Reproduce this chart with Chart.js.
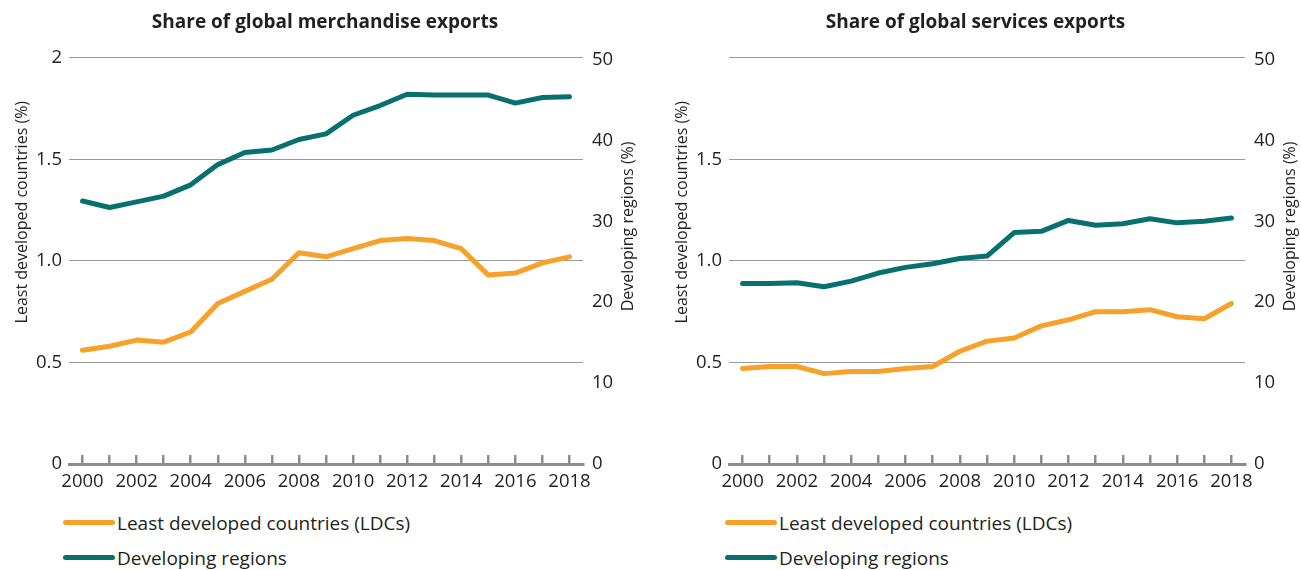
<!DOCTYPE html>
<html>
<head>
<meta charset="utf-8">
<script src="https://cdn.jsdelivr.net/npm/chart.js@4.4.1/dist/chart.umd.min.js"></script>
<style>
    body { margin: 0; background: #fff; width: 1301px; height: 570px; overflow: hidden; font-family: "Open Sans", sans-serif; }
    .panel { position: absolute; top: 0; height: 570px; }
    .legend { position: absolute; top: 505px; }
    .legend-row { display: flex; align-items: center; height: 35px; font-size: 19px; color: #231f20; white-space: nowrap; }
    .legend-row span.swatch { display: inline-block; width: 52px; height: 5px; border-radius: 3px; margin-right: 2px; }
</style>
</head>
<body>
<div class="panel" style="left:0;width:650px">
    <canvas id="merchChart" width="650" height="500"></canvas>
    <div class="legend" id="merchLegend" style="left:63px"></div>
</div>
<div class="panel" style="left:650px;width:651px">
    <canvas id="servChart" width="651" height="500"></canvas>
    <div class="legend" id="servLegend" style="left:75px"></div>
</div>
<script>
// Years on the x axis
const years = ['2000', '2001', '2002', '2003', '2004', '2005', '2006', '2007', '2008', '2009',
    '2010', '2011', '2012', '2013', '2014', '2015', '2016', '2017', '2018'];

// Share of global merchandise exports (%)
const merchLdc = [0.56, 0.58, 0.61, 0.60, 0.65, 0.79, 0.85, 0.91, 1.04, 1.02,
    1.06, 1.10, 1.11, 1.10, 1.06, 0.93, 0.94, 0.99, 1.02];
const merchDeveloping = [32.5, 31.7, 32.4, 33.1, 34.5, 37.0, 38.5, 38.8, 40.1, 40.8,
    43.1, 44.3, 45.7, 45.6, 45.6, 45.6, 44.6, 45.3, 45.4];

// Share of global services exports (%)
const servLdc = [0.47, 0.48, 0.48, 0.445, 0.455, 0.455, 0.47, 0.48, 0.555, 0.605,
    0.62, 0.68, 0.71, 0.75, 0.75, 0.76, 0.725, 0.715, 0.79];
const servDeveloping = [22.3, 22.3, 22.4, 21.9, 22.6, 23.6, 24.3, 24.75, 25.4, 25.7,
    28.6, 28.75, 30.1, 29.5, 29.7, 30.3, 29.8, 30.0, 30.4];

// Axis ticks
const ldcTicks = [0, 0.5, 1, 1.5, 2];
const developingTicks = [0, 10, 20, 30, 40, 50];

const ORANGE = '#f7a12b';
const TEAL = '#08716f';
const TEXT = '#231f20';

Chart.defaults.font.family = '"Open Sans", sans-serif';
Chart.defaults.color = TEXT;

// Rotated axis titles, placed a bit above the middle of the plot
const axisTitles = {
    id: 'axisTitles',
    afterDraw: function (chart, args, opts) {
        var ctx = chart.ctx;
        var a = chart.chartArea;
        var h = a.bottom - a.top;
        ctx.save();
        ctx.font = '16px "Open Sans", sans-serif';
        ctx.fillStyle = TEXT;
        ctx.textAlign = 'center';
        ctx.textBaseline = 'middle';
        [[opts.left, a.left - 47, a.top + h * 0.38], [opts.right, a.right + 45, a.top + h * 0.415]]
            .forEach(function (t) {
                ctx.save();
                ctx.translate(t[1], t[2]);
                ctx.rotate(-Math.PI / 2);
                ctx.fillText(t[0], 0, 0);
                ctx.restore();
            });
        ctx.restore();
    }
};

function buildChart(canvasId, legendId, title, ldc, developing, leftWidth, rightWidth, showTopTick) {
    var ctx = document.getElementById(canvasId).getContext('2d');
    var chart = new Chart(ctx, {
        type: 'line',
        data: {
            labels: years,
            datasets: [{
                label: 'Least developed countries (LDCs)',
                data: ldc,
                yAxisID: 'y',
                borderColor: ORANGE,
                backgroundColor: ORANGE
            }, {
                label: 'Developing regions',
                data: developing,
                yAxisID: 'y1',
                borderColor: TEAL,
                backgroundColor: TEAL
            }]
        },
        options: {
            responsive: false,
            animation: false,
            elements: {
                line: { borderWidth: 5, tension: 0, borderCapStyle: 'round', borderJoinStyle: 'round' },
                point: { radius: 0, hoverRadius: 0 }
            },
            layout: { padding: 0 },
            plugins: {
                legend: { display: false },
                tooltip: { enabled: false },
                title: {
                    display: true,
                    text: title,
                    color: TEXT,
                    font: { size: 19, weight: 'bold' },
                    padding: { top: 11, bottom: 24 }
                },
                axisTitles: { left: 'Least developed countries (%)', right: 'Developing regions (%)' }
            },
            scales: {
                x: {
                    offset: true,
                    grid: {
                        offset: false,
                        drawOnChartArea: false,
                        drawTicks: true,
                        tickLength: -9,
                        color: '#8c8c8c',
                        lineWidth: 2.5
                    },
                    border: { display: true, color: '#8c8c8c', width: 3 },
                    ticks: {
                        autoSkip: false,
                        maxRotation: 0,
                        padding: 16,
                        font: { size: 18.5 },
                        color: TEXT,
                        callback: function (v, i) { return i % 2 === 0 ? years[i] : ''; }
                    },
                    afterFit: function (scale) { scale.height = 36; }
                },
                y: {
                    position: 'left',
                    min: 0,
                    max: 2,
                    afterBuildTicks: function (scale) {
                        scale.ticks = ldcTicks.map(function (v) { return { value: v }; });
                    },
                    grid: { color: '#9a9a9a', lineWidth: 1, drawTicks: false },
                    border: { display: false },
                    ticks: {
                        padding: 7,
                        font: { size: 18.5 },
                        color: TEXT,
                        callback: function (v) {
                            if (v === 0) return '0';
                            if (v === 2) return showTopTick ? '2' : '';
                            return v.toFixed(1);
                        }
                    },
                    afterFit: function (scale) { scale.width = leftWidth; }
                },
                y1: {
                    position: 'right',
                    min: 0,
                    max: 50.2,
                    afterBuildTicks: function (scale) {
                        scale.ticks = developingTicks.map(function (v) { return { value: v }; });
                    },
                    grid: { drawOnChartArea: false, drawTicks: false },
                    border: { display: false },
                    ticks: { padding: 9, font: { size: 18.5 }, color: TEXT },
                    afterFit: function (scale) { scale.width = rightWidth; }
                }
            }
        },
        plugins: [axisTitles]
    });

    // HTML legend, one entry per row
    var legend = document.getElementById(legendId);
    chart.data.datasets.forEach(function (ds) {
        var row = document.createElement('div');
        row.className = 'legend-row';
        var sw = document.createElement('span');
        sw.className = 'swatch';
        sw.style.background = ds.borderColor;
        row.appendChild(sw);
        row.appendChild(document.createTextNode(ds.label));
        legend.appendChild(row);
    });
    return chart;
}

buildChart('merchChart', 'merchLegend', 'Share of global merchandise exports', merchLdc, merchDeveloping, 69, 67, true);
buildChart('servChart', 'servLegend', 'Share of global services exports', servLdc, servDeveloping, 79, 56, false);
</script>
</body>
</html>
